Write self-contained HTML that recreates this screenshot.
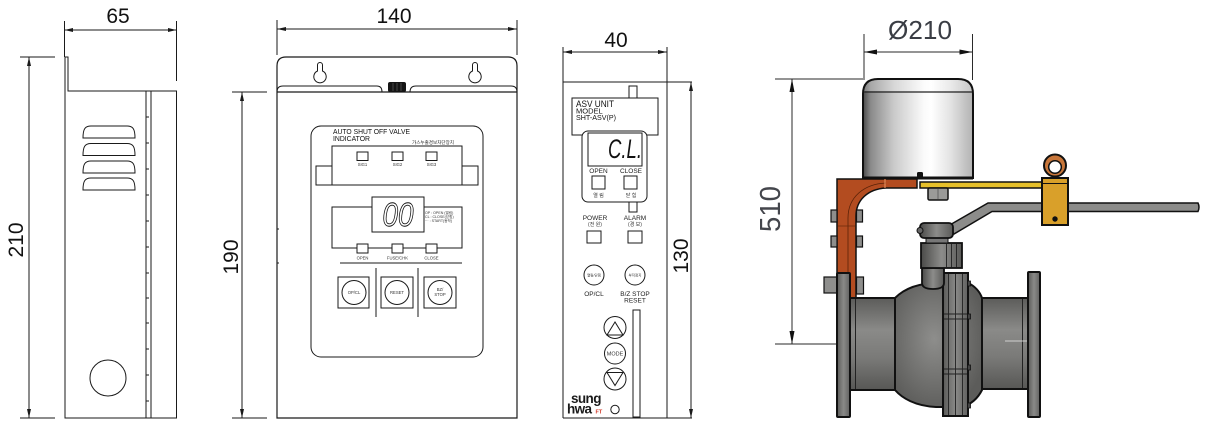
<!DOCTYPE html>
<html><head><meta charset="utf-8"><style>
html,body{margin:0;padding:0;background:#fff;}
svg{display:block;}
text{font-family:"Liberation Sans","Noto Sans CJK KR",sans-serif;}
</style></head><body>
<svg width="1210" height="429" viewBox="0 0 1210 429" xmlns="http://www.w3.org/2000/svg">
<defs>
 <linearGradient id="act" x1="0" x2="1" y1="0" y2="0">
  <stop offset="0" stop-color="#4a4a4a"/>
  <stop offset="0.07" stop-color="#8a8a8a"/>
  <stop offset="0.28" stop-color="#cacaca"/>
  <stop offset="0.55" stop-color="#fafafa"/>
  <stop offset="0.62" stop-color="#ffffff"/>
  <stop offset="0.8" stop-color="#e2e2e2"/>
  <stop offset="1" stop-color="#b2b2b2"/>
 </linearGradient>
 <linearGradient id="pipe" x1="0" x2="0" y1="0" y2="1">
  <stop offset="0" stop-color="#5c5c5a"/>
  <stop offset="0.35" stop-color="#8a8a88"/>
  <stop offset="0.65" stop-color="#7a7a78"/>
  <stop offset="1" stop-color="#575755"/>
 </linearGradient>
 <linearGradient id="flg" x1="0" x2="1" y1="0" y2="0">
  <stop offset="0" stop-color="#5a5a58"/>
  <stop offset="0.5" stop-color="#8a8a88"/>
  <stop offset="1" stop-color="#616160"/>
 </linearGradient>
 <radialGradient id="ball" cx="0.45" cy="0.45" r="0.6">
  <stop offset="0" stop-color="#8e8e8c"/>
  <stop offset="1" stop-color="#5c5c5a"/>
 </radialGradient>
 <linearGradient id="stem" x1="0" x2="1" y1="0" y2="0">
  <stop offset="0" stop-color="#4a4a48"/>
  <stop offset="0.5" stop-color="#8c8c8a"/>
  <stop offset="1" stop-color="#5a5a58"/>
 </linearGradient>
</defs>

<!-- ================= LEFT SIDE VIEW ================= -->
<g stroke="#1a1a1a" stroke-width="1" fill="none">
 <line x1="64.5" y1="21" x2="64.5" y2="57"/>
 <line x1="176.5" y1="21" x2="176.5" y2="81"/>
 <line x1="64.5" y1="30" x2="176.5" y2="30"/>
 <line x1="20" y1="57" x2="55" y2="57"/>
 <line x1="20" y1="418" x2="55" y2="418"/>
 <line x1="29" y1="57" x2="29" y2="418"/>
 <path d="M64.5,57 L68,57 L68,91 L176.5,91 L176.5,418 L65,418 L65,57"/>
 <line x1="146" y1="91" x2="146" y2="418"/>
 <line x1="151" y1="91" x2="151" y2="418"/>
 <path d="M146,117h3M146,143h3M146,169h3M146,195h3M146,221h3M146,247h3M146,273h3M146,298h3M146,323h3M146,349h3M146,375h3M146,401h3"/>
 <path d="M83,138 L135,138 C135,129 133,126 127,126 L91,126 C85,126 83,129 83,138 Z"/>
 <path d="M83,155.5 L135,155.5 C135,146.5 133,143.5 127,143.5 L91,143.5 C85,143.5 83,146.5 83,155.5 Z"/>
 <path d="M83,173 L135,173 C135,164 133,161 127,161 L91,161 C85,161 83,164 83,173 Z"/>
 <path d="M83,190 L135,190 C135,181 133,178 127,178 L91,178 C85,178 83,181 83,190 Z"/>
 <circle cx="108" cy="378" r="18"/>
</g>
<g fill="#1a1a1a">
 <polygon points="64.5,30 73,28 73,32"/>
 <polygon points="176.5,30 168,28 168,32"/>
 <polygon points="29,57 27,66 31,66"/>
 <polygon points="29,418 27,409 31,409"/>
</g>
<text x="118" y="23" font-size="21" text-anchor="middle" fill="#111">65</text>
<text transform="translate(23,240) rotate(-90)" font-size="21" text-anchor="middle" fill="#111">210</text>

<!-- ================= MIDDLE FRONT VIEW ================= -->
<g stroke="#1a1a1a" stroke-width="1" fill="none">
 <line x1="277" y1="20" x2="277" y2="55"/>
 <line x1="517" y1="20" x2="517" y2="55"/>
 <line x1="277" y1="29" x2="517" y2="29"/>
 <line x1="232" y1="92" x2="267" y2="92"/>
 <line x1="232" y1="418" x2="267" y2="418"/>
 <line x1="242" y1="92" x2="242" y2="418"/>
 <path d="M277,418 L277,66 Q277,57 286,57 L508,57 Q517,57 517,66 L517,418 Z" stroke-width="1.2"/>
 <line x1="277" y1="92" x2="517" y2="92" stroke-width="1.2"/>
 <path d="M277,92 Q277,86 283,86 L377,86 Q382,86 382,92"/>
 <path d="M410,92 Q410,86 416,86 L511,86 Q517,86 517,92"/>
 <path d="M317.5,71 L317.5,65 A2.5,2.5 0 0 1 322.5,65 L322.5,71 A6.2,6.2 0 1 1 317.5,71 Z"/>
 <path d="M472.5,71 L472.5,65 A2.5,2.5 0 0 1 477.5,65 L477.5,71 A6.2,6.2 0 1 1 472.5,71 Z"/>
 <path d="M277,229h2M277,263h2"/>
 <rect x="311" y="126" width="172" height="231" rx="10"/>
 <rect x="332" y="146" width="130" height="39"/>
 <path d="M332,166 L316,166 L316,185 L332,185 M462,166 L478,166 L478,185 L462,185"/>
 <rect x="357" y="152" width="11" height="8.5"/>
 <rect x="392" y="152" width="11" height="8.5"/>
 <rect x="426" y="152" width="11" height="8.5"/>
 <rect x="332" y="207" width="130" height="41"/>
 <rect x="372" y="197" width="52" height="35" fill="#fff"/>
 <rect x="357" y="244" width="11" height="9" fill="#fff"/>
 <rect x="392" y="244" width="11" height="9" fill="#fff"/>
 <rect x="426" y="244" width="11" height="9" fill="#fff"/>
 <line x1="340" y1="263" x2="462" y2="263"/>
 <line x1="376" y1="268" x2="376" y2="317"/>
 <line x1="418" y1="268" x2="418" y2="317"/>
 <rect x="338" y="277" width="31" height="31"/>
 <rect x="381" y="277" width="32" height="31"/>
 <rect x="424" y="277" width="32" height="31"/>
 <circle cx="354" cy="292.5" r="12"/>
 <circle cx="397" cy="292.5" r="12"/>
 <circle cx="440" cy="292.5" r="12"/>
</g>
<rect x="388" y="82" width="18" height="10" rx="2" fill="#151515"/>
<path d="M393,83v8M397,83v8M401,83v8" stroke="#555" stroke-width="0.8"/>
<g fill="#1a1a1a">
 <polygon points="277,29 286,27 286,31"/>
 <polygon points="517,29 508,27 508,31"/>
 <polygon points="242,92 240,101 244,101"/>
 <polygon points="242,418 240,409 244,409"/>
</g>
<text x="394" y="23" font-size="21" text-anchor="middle" fill="#111">140</text>
<text transform="translate(238,257) rotate(-90)" font-size="21" text-anchor="middle" fill="#111">190</text>
<text x="333" y="134" font-size="7" fill="#111" textLength="77" lengthAdjust="spacingAndGlyphs">AUTO SHUT OFF VALVE</text>
<text x="333" y="141" font-size="7" fill="#111" textLength="37" lengthAdjust="spacingAndGlyphs">INDICATOR</text>
<text x="412" y="144" font-size="4.5" fill="#222" textLength="42" lengthAdjust="spacingAndGlyphs">가스누출경보차단장치</text>
<g font-size="4.2" fill="#333" text-anchor="middle">
 <text x="362.5" y="166">SIG1</text>
 <text x="397.5" y="166">SIG2</text>
 <text x="431.5" y="166">SIG3</text>
 <text x="362.5" y="259.5">OPEN</text>
 <text x="397.5" y="259.5">FUSE/CHK</text>
 <text x="431.5" y="259.5">CLOSE</text>
 <text x="354" y="294">OP/CL</text>
 <text x="397" y="294">RESET</text>
 <text x="440" y="291">BZ/</text>
 <text x="440" y="296">STOP</text>
</g>
<g font-size="3.6" fill="#333">
 <text x="425" y="214">OP : OPEN (열림)</text>
 <text x="425" y="218">CL : CLOSE(닫힘)</text>
 <text x="425" y="222">··· : START(동작)</text>
</g>
<text x="398" y="226" font-size="33" font-style="italic" text-anchor="middle" fill="#fff" stroke="#111" stroke-width="0.9" textLength="31" lengthAdjust="spacingAndGlyphs">00</text>

<!-- ================= RIGHT UNIT VIEW ================= -->
<g stroke="#1a1a1a" stroke-width="1" fill="none">
 <line x1="563" y1="47" x2="563" y2="418"/>
 <line x1="667" y1="47" x2="667" y2="418"/>
 <line x1="563" y1="52" x2="667" y2="52"/>
 <line x1="563" y1="82" x2="692" y2="82"/>
 <line x1="563" y1="418" x2="692" y2="418"/>
 <line x1="691" y1="82" x2="691" y2="418"/>
 <rect x="629" y="86" width="8" height="12"/>
 <rect x="572" y="98" width="86" height="37"/>
 <rect x="582" y="131" width="65" height="71" rx="6" fill="#fff"/>
 <rect x="588" y="133" width="54" height="33"/>
 <rect x="592" y="176" width="13" height="13"/>
 <rect x="624" y="176" width="13" height="13"/>
 <rect x="629" y="202" width="8" height="10"/>
 <rect x="587" y="231" width="14" height="12"/>
 <rect x="628" y="231" width="14" height="12"/>
 <circle cx="594" cy="275" r="10"/>
 <circle cx="635" cy="275" r="10"/>
 <rect x="633" y="310" width="7" height="107"/>
 <circle cx="615" cy="327.5" r="11"/>
 <circle cx="615" cy="353.5" r="10.5"/>
 <circle cx="615" cy="379" r="11"/>
 <polygon points="615,322 607,335 623,335"/>
 <polygon points="607,372.5 623,372.5 615,385.5"/>
 <circle cx="615" cy="409.5" r="4.2"/>
</g>
<g fill="#1a1a1a">
 <polygon points="563,52 572,50 572,54"/>
 <polygon points="667,52 658,50 658,54"/>
 <polygon points="691,82 689,91 693,91"/>
 <polygon points="691,418 689,409 693,409"/>
</g>
<text x="616" y="47" font-size="21" text-anchor="middle" fill="#111">40</text>
<text transform="translate(688,256) rotate(-90)" font-size="21" text-anchor="middle" fill="#111">130</text>
<text x="576" y="107" font-size="9" fill="#111" textLength="38" lengthAdjust="spacingAndGlyphs">ASV UNIT</text>
<text x="576" y="113.5" font-size="7.5" fill="#111">MODEL</text>
<text x="576" y="120" font-size="7.5" fill="#111" textLength="40" lengthAdjust="spacingAndGlyphs">SHT-ASV(P)</text>
<text x="625" y="158" font-size="27" font-style="italic" text-anchor="middle" fill="#111" textLength="34" lengthAdjust="spacingAndGlyphs">C.L.</text>
<g font-size="6.5" fill="#222" text-anchor="middle">
 <text x="598.5" y="173">OPEN</text>
 <text x="631" y="173">CLOSE</text>
 <text x="595" y="220">POWER</text>
 <text x="635" y="220">ALARM</text>
 <text x="594" y="296">OP/CL</text>
 <text x="635" y="296">B/Z STOP</text>
 <text x="635" y="302.5">RESET</text>
</g>
<g font-size="5" fill="#333" text-anchor="middle">
 <text x="598.5" y="197">열 림</text>
 <text x="631" y="197">닫 힘</text>
 <text x="595" y="226">(전 원)</text>
 <text x="635" y="226">(경 보)</text>
</g>
<g font-size="3.5" fill="#333" text-anchor="middle">
 <text x="594" y="276.5">열림/닫힘</text>
 <text x="635" y="276.5">부저정지</text>
 <text x="615" y="355.5" font-size="5.5">MODE</text>
</g>
<text x="571" y="403" font-size="13.5" font-weight="bold" fill="#1a1a1a" letter-spacing="-0.6">sung</text>
<text x="567" y="413.5" font-size="13.5" font-weight="bold" fill="#1a1a1a" letter-spacing="-0.6">hwa</text>
<text x="595.5" y="413.5" font-size="5.5" font-weight="bold" fill="#d23a2a">FT</text>

<!-- ================= VALVE ================= -->
<g stroke="#2a2a2a" stroke-width="1" fill="none">
 <line x1="864" y1="34" x2="864" y2="80"/>
 <line x1="972.5" y1="34" x2="972.5" y2="80"/>
 <line x1="864" y1="52" x2="972.5" y2="52"/>
 <line x1="775" y1="79" x2="863" y2="79"/>
 <line x1="775" y1="344" x2="837" y2="344"/>
 <line x1="792" y1="79" x2="792" y2="344"/>
</g>
<g fill="#111">
 <polygon points="864,52 877,49.5 877,54.5"/>
 <polygon points="972.5,52 959.5,49.5 959.5,54.5"/>
 <polygon points="792,79 789.5,92 794.5,92"/>
 <polygon points="792,344 789.5,331 794.5,331"/>
</g>
<text x="920" y="39" font-size="26" text-anchor="middle" fill="#3a3d44" textLength="64" lengthAdjust="spacingAndGlyphs">Ø210</text>
<text transform="translate(780,209) rotate(-90)" font-size="29" text-anchor="middle" fill="#44464c" textLength="46" lengthAdjust="spacingAndGlyphs">510</text>

<!-- actuator -->
<path d="M863,178 L863,94 Q863,79 878,79 L958,79 Q973,79 973,94 L973,178 Z" fill="url(#act)" stroke="#111" stroke-width="2"/>
<path d="M864,92 L972,92" stroke="#222" stroke-width="1.2"/>
<path d="M864,91 L864,94 Q864,80 878,80 L958,80 Q972,80 972,94 L972,91 Z" fill="#fff" opacity="0.25"/>
<line x1="863" y1="178" x2="973" y2="178" stroke="#111" stroke-width="3"/>
<rect x="917" y="172" width="6" height="6" rx="1.5" fill="#111"/>

<!-- handle -->
<path d="M948,226 L988,203 L1198,203 Q1200,207 1198,211.5 L992,211.5 L954,234 Z" fill="#8c8c8a" stroke="#111" stroke-width="1.5"/>

<!-- bracket -->
<path d="M837,179 L917,179 L917,188 L886,188 C868,189 856,200 856,216 L856,303 L837,303 Z" fill="#b34c20" stroke="#111" stroke-width="1.5"/>
<path d="M848,303 L848,218 C848,197 864,184 886,183" fill="none" stroke="#5a2208" stroke-width="0.8"/>
<line x1="885" y1="179" x2="885" y2="188" stroke="#e08a5a" stroke-width="1.2"/>
<line x1="838" y1="226" x2="855" y2="226" stroke="#6a2a0a" stroke-width="0.8"/>
<g fill="#8e8e8c" stroke="#111" stroke-width="1.2">
 <rect x="831" y="210" width="6" height="12"/>
 <rect x="831" y="236" width="6" height="11"/>
 <rect x="856.5" y="210" width="6" height="12"/>
 <rect x="856.5" y="236" width="6" height="11"/>
 <rect x="824" y="277" width="13" height="16"/>
 <rect x="856.5" y="277" width="7" height="17"/>
</g>

<!-- yellow rod, nut, block, eye -->
<rect x="920" y="182" width="122" height="6" fill="#e6c02a" stroke="#111" stroke-width="1.5"/>
<rect x="928" y="188" width="20" height="12" rx="1.5" fill="#9a9a98" stroke="#111" stroke-width="1.5"/>
<line x1="938" y1="189" x2="938" y2="199" stroke="#555" stroke-width="0.8"/>
<rect x="1052" y="174" width="6" height="5" fill="#c8763a" stroke="#111" stroke-width="1"/>
<circle cx="1055" cy="165.5" r="11" fill="#c8763a" stroke="#111" stroke-width="2"/>
<circle cx="1055" cy="167" r="6.3" fill="#fff" stroke="#111" stroke-width="1.5"/>
<rect x="1042" y="178" width="26" height="47" fill="#d9a02a" stroke="#111" stroke-width="2"/>
<line x1="1043" y1="183.5" x2="1067" y2="183.5" stroke="#111" stroke-width="1"/>
<circle cx="1055" cy="219" r="2.7" fill="#111"/>

<!-- valve body -->
<path d="M895,298 C905,288 920,283 938,283 L968,283 C975,286 980,292 982,298 L982,390 C978,398 972,404 962,407 L936,407 C915,406 902,398 895,390 Z" fill="url(#ball)" stroke="#111" stroke-width="2"/>
<rect x="850" y="298" width="45" height="92" fill="url(#pipe)" stroke="#111" stroke-width="2"/>
<line x1="855.5" y1="299" x2="855.5" y2="389" stroke="#222" stroke-width="1"/>
<rect x="982" y="298" width="46" height="91" fill="url(#pipe)" stroke="#111" stroke-width="2"/>
<line x1="1022.5" y1="299" x2="1022.5" y2="388" stroke="#222" stroke-width="1"/>
<line x1="1005" y1="341" x2="1038" y2="341" stroke="#e8e8e8" stroke-width="0.8"/>
<rect x="837" y="273" width="13" height="144" rx="1" fill="url(#flg)" stroke="#111" stroke-width="2"/>
<rect x="1028" y="272" width="12" height="145" rx="1" fill="url(#flg)" stroke="#111" stroke-width="2"/>
<rect x="943" y="273" width="25" height="143" fill="url(#flg)" stroke="#111" stroke-width="2"/>
<path d="M948.5,274v141M955.5,274v141M962.5,274v141" stroke="#222" stroke-width="0.9"/>
<path d="M944,314h23M944,319h23M944,369h23M944,374h23" stroke="#222" stroke-width="0.9"/>
<g fill="#444" stroke="#111" stroke-width="0.8">
 <rect x="967.5" y="281" width="3" height="5"/>
 <rect x="967.5" y="314" width="3" height="5"/>
 <rect x="967.5" y="365" width="3" height="5"/>
 <rect x="967.5" y="403" width="3" height="5"/>
</g>
<path d="M922,268 L944,268 L944,283 Q944,289 933,289 Q922,289 922,283 Z" fill="url(#stem)" stroke="#111" stroke-width="1.8"/>
<rect x="921" y="243" width="41" height="25" fill="url(#stem)" stroke="#111" stroke-width="1.8"/>
<path d="M946.5,244v23M951.5,244v23M956.5,244v23" stroke="#222" stroke-width="0.9"/>
<rect x="926" y="238" width="22" height="5" fill="#777" stroke="#111" stroke-width="1"/>
<rect x="920" y="223" width="33" height="15" rx="4" fill="url(#stem)" stroke="#111" stroke-width="1.8"/>
<circle cx="920" cy="230.5" r="3" fill="#666" stroke="#111" stroke-width="1"/>
</svg>
</body></html>
